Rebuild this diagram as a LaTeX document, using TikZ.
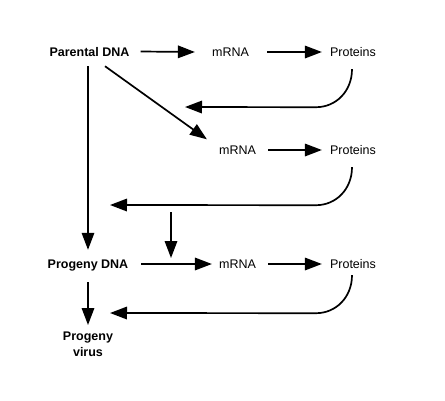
\documentclass[tikz,border=0pt]{standalone}
\usepackage{fontspec}
\setmainfont{Liberation Sans}
\usetikzlibrary{arrows.meta}
\begin{document}
\begin{tikzpicture}[x=1pt,y=-1pt,
  lbl/.style={font=\fontsize{12.5}{15}\selectfont, text height=9pt, text depth=0pt, inner sep=3pt},
  blbl/.style={lbl, font=\fontsize{12.5}{15}\selectfont\bfseries},
  arr/.style={line width=1.7pt, -{Triangle[length=17pt,width=12.5pt]}},
]
\useasboundingbox[fill=white] (0,0) rectangle (445,400);
% nodes
\node[blbl] (pd) at (89.5,51.5) {Parental DNA};
\node[lbl] (m1) at (230.5,52) {mRNA};
\node[lbl] (p1) at (353,52) {Proteins};
\node[lbl] (m2) at (237.5,150) {mRNA};
\node[lbl] (p2) at (353,150) {Proteins};
\node[blbl] (pg) at (88,264) {Progeny DNA};
\node[lbl] (m3) at (237.5,264) {mRNA};
\node[lbl] (p3) at (353,264) {Proteins};
\node[font=\fontsize{12.5}{16}\selectfont\bfseries, align=center, inner sep=0pt, anchor=north] (pv) at (88,332) {Progeny\\virus};
% free ends
\coordinate (fb1) at (185,107);
\coordinate (fb2) at (110,205);
\coordinate (fb3) at (110,313);
\coordinate (jt) at (171,212);
\coordinate (jb) at (171,258);
\coordinate (s1) at ([xshift=-1pt,yshift=-9.5pt]p1.south);
\coordinate (s2) at ([xshift=-1pt,yshift=-9.5pt]p2.south);
\coordinate (s3) at ([xshift=-1pt,yshift=-3.5pt]p3.south);
% straight arrows
\draw[arr] ([xshift=8pt]pd.east) -- ([xshift=-14pt]m1.west);
\draw[arr] ([xshift=15pt]m1.east) -- ([xshift=-5pt]p1.west);
\draw[arr] ([xshift=9pt]m2.east) -- ([xshift=-5pt]p2.west);
\draw[arr] ([xshift=10pt]pg.east) -- ([xshift=-4pt]m3.west);
\draw[arr] ([xshift=9pt]m3.east) -- ([xshift=-5pt]p3.west);
\draw[arr] ([yshift=-7pt]pd.south -| pg.north) -- ([yshift=6.5pt]pg.north);
\draw[arr] ([yshift=-10.5pt]pg.south) -- ([yshift=7pt]pv.north);
\draw[arr] ([xshift=15.5pt,yshift=-7pt]pd.south) -- ([xshift=-9pt,yshift=3pt]m2.north west);
\draw[arr] (jt) -- (jb);
% feedback arrows
\draw[arr] (s1) .. controls +(0,22) and +(20,0) .. ([shift={(-36,38)}]s1) -- (fb1);
\draw[arr] (s2) .. controls +(0,22) and +(20,0) .. ([shift={(-36,38)}]s2) -- (fb2);
\draw[arr] (s3) .. controls +(0,22) and +(20,0) .. ([shift={(-36,38)}]s3) -- (fb3);
\end{tikzpicture}
\end{document}
